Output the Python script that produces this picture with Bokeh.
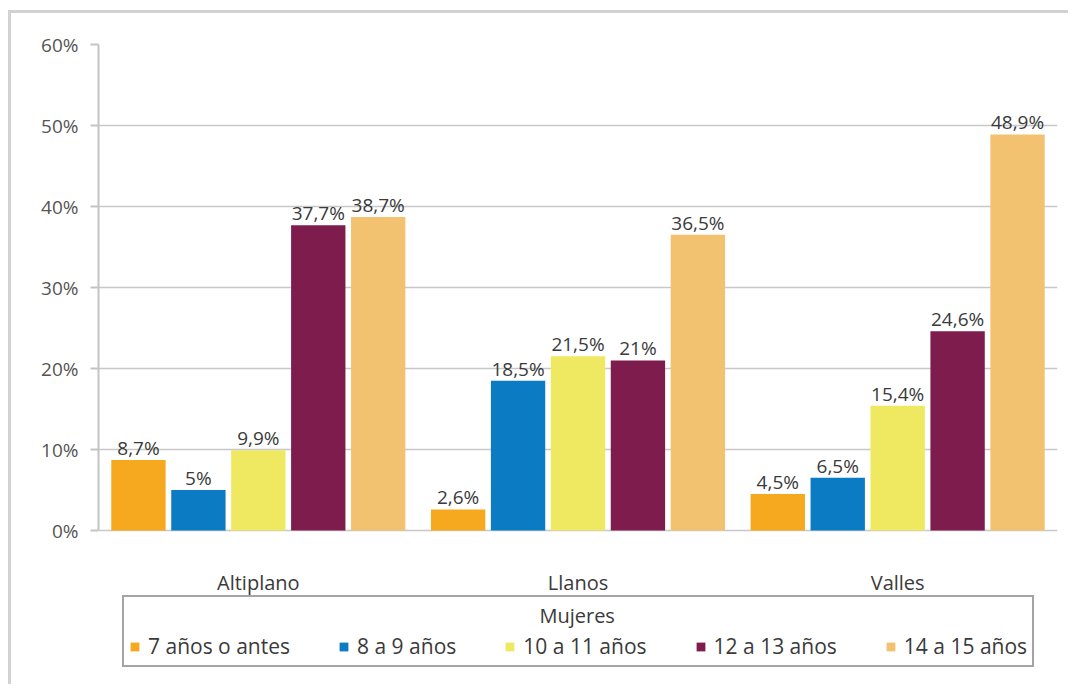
from bokeh.plotting import figure
from bokeh.models import (ColumnDataSource, FactorRange, FixedTicker, Legend, LegendItem, Range1d)
from bokeh.transform import dodge
from bokeh.core.properties import value
from bokeh.embed import file_html
from bokeh.resources import INLINE

regions = ["Altiplano", "Llanos", "Valles"]
series_names = ["7 años o antes", "8 a 9 años", "10 a 11 años", "12 a 13 años", "14 a 15 años"]
s7 = [8.7, 2.6, 4.5]
s8_9 = [5.0, 18.5, 6.5]
s10_11 = [9.9, 21.5, 15.4]
s12_13 = [37.7, 21.0, 24.6]
s14_15 = [38.7, 36.5, 48.9]
y_ticks = [0, 10, 20, 30, 40, 50, 60]
legend_title = "Mujeres"

series_values = [s7, s8_9, s10_11, s12_13, s14_15]
colors = ["#F6A81E", "#0B7CC3", "#EFE861", "#7E1C4D", "#F2C271"]
offsets = [-0.375, -0.1875, 0.0, 0.1875, 0.375]
FONT = "Open Sans"
TXT = "#3a3a3a"

def fmt(v):
    return f"{v:g}".replace(".", ",") + "%"

W, H = 1060, 674
Y_MAX = y_ticks[-1]
# frame runs down to the bottom of the canvas; the area below 0 holds the labels and legend
y_min = -Y_MAX * 157 / 486
p = figure(x_range=FactorRange(factors=regions, range_padding=0),
           y_range=Range1d(y_min, Y_MAX), x_axis_location=None,
           width=W, height=H, output_backend="svg", toolbar_location=None,
           min_border_left=87, min_border_top=31, min_border_right=14, min_border_bottom=0)
p.outline_line_color = None
p.background_fill_color = "white"
p.border_fill_color = "white"
p.styles = {"border-left": "3px solid #d2d2d2", "border-top": "3px solid #d2d2d2",
            "margin-left": "8px", "margin-top": "10px"}

data = {"region": regions, "zero": [0] * len(regions)}
for i, vals in enumerate(series_values):
    data[f"v{i}"] = vals
    data[f"l{i}"] = [fmt(v) for v in vals]
src = ColumnDataSource(data)

renderers = []
for i in range(5):
    r = p.vbar(x=dodge("region", offsets[i], range=p.x_range), top=f"v{i}", width=0.17,
               source=src, fill_color=colors[i], line_color=None)
    renderers.append(r)
    p.text(x=dodge("region", offsets[i], range=p.x_range), y=f"v{i}", text=f"l{i}", source=src,
           text_align="center", text_baseline="alphabetic", y_offset=-12,
           text_font=value(FONT), text_font_size="19px", text_color=TXT)

# category labels under the baseline
p.text(x="region", y="zero", text="region", source=src, text_align="center",
       text_baseline="alphabetic", y_offset=52, text_font=value(FONT),
       text_font_size="20px", text_color=TXT)

# y axis
p.yaxis.bounds = (0, Y_MAX)
p.yaxis.ticker = FixedTicker(ticks=y_ticks)
p.yaxis.major_label_overrides = {t: f"{t}%" for t in y_ticks}
p.yaxis.major_label_text_font = FONT
p.yaxis.major_label_text_font_size = "19px"
p.yaxis.major_label_text_color = "#555555"
p.yaxis.axis_line_color = "#c4c4c4"
p.yaxis.axis_line_width = 2
p.yaxis.major_tick_line_color = "#c4c4c4"
p.yaxis.major_tick_line_width = 2
p.yaxis.major_tick_out = 8
p.yaxis.major_tick_in = 0
p.yaxis.minor_tick_line_color = None
p.yaxis.major_label_standoff = 12

p.xgrid.grid_line_color = None
p.ygrid.ticker = FixedTicker(ticks=y_ticks)
p.ygrid.bounds = (0, Y_MAX)
p.ygrid.grid_line_color = "#c8c8c8"
p.ygrid.grid_line_width = 1.5

# legend inside the lower part of the frame, title centred with non-breaking spaces
items = [LegendItem(label=series_names[i], renderers=[renderers[i]]) for i in range(5)]
legend = Legend(items=items, orientation="horizontal", location=(24, 20),
                title="\u00a0" * 79 + legend_title, title_text_font=FONT,
                title_text_font_size="20px", title_text_font_style="normal",
                title_text_color=TXT, title_standoff=3,
                label_text_font=FONT, label_text_font_size="21px", label_text_color=TXT,
                glyph_width=11, glyph_height=11, label_standoff=8, spacing=48,
                padding=5, margin=0, border_line_color="#4a4a4a", border_line_width=2,
                background_fill_color="white", background_fill_alpha=1.0)
p.add_layout(legend, "center")

open("out.html", "w").write(file_html(p, INLINE))
